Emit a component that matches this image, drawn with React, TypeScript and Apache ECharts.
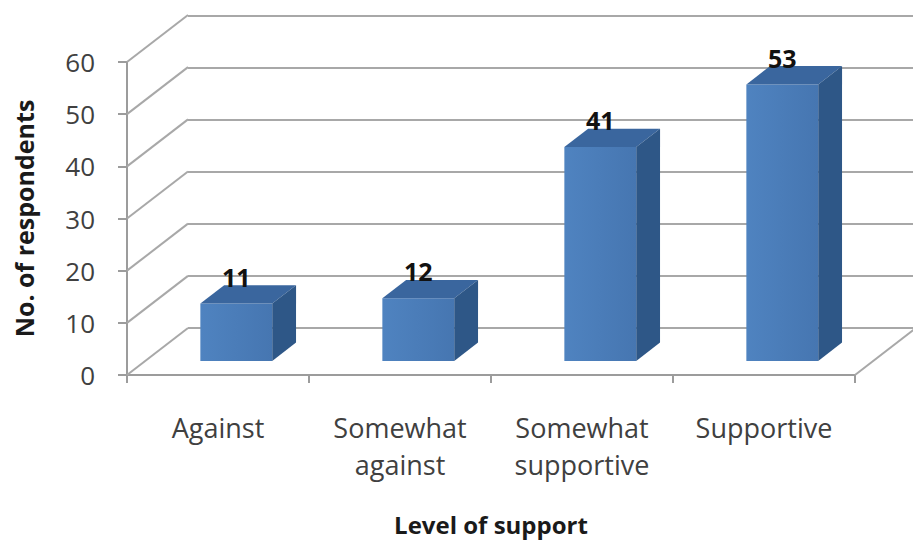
import React, { useEffect, useRef } from "react";
import * as echarts from "echarts";

// Survey results: level of support among respondents
const categories = ["Against", "Somewhat\nagainst", "Somewhat\nsupportive", "Supportive"];
const respondents = [11, 12, 41, 53];
const yTicks = [0, 10, 20, 30, 40, 50, 60];

// Oblique projection of the depth axis (pixels for the full floor depth)
const DEPTH_X = 61;
const DEPTH_Y = -47;
// Bars sit in the middle of the floor depth
const BAR_DEPTH_START = 0.3;
const BAR_DEPTH = 0.39;
const BAR_WIDTH_RATIO = 0.395;

const GRID_COLOR = "#a8a8a8";
const FONT = "'Open Sans', 'Noto Sans', sans-serif";

export default function App() {
  const ref = useRef<HTMLDivElement>(null);

  useEffect(() => {
    document.body.style.margin = "0";
    if (!ref.current) return;
    const chart = echarts.init(ref.current, null, { renderer: "svg" });

    const frontGradient = new echarts.graphic.LinearGradient(0, 0, 1, 0, [
      { offset: 0, color: "#4f83c0" },
      { offset: 1, color: "#4676b1" },
    ]);

    chart.setOption({
      animation: false,
      backgroundColor: "#ffffff",
      grid: [
        { left: 127, top: 62, width: 728, height: 313 },
        { left: 188, top: 16, right: 0, height: 312 },
      ],
      xAxis: [
        {
          type: "category",
          gridIndex: 0,
          data: categories,
          axisLine: { lineStyle: { color: "#9c9c9c", width: 2 } },
          axisTick: { show: true, length: 8, interval: 0, lineStyle: { color: "#9c9c9c", width: 2 } },
          axisLabel: {
            interval: 0,
            margin: 34,
            fontSize: 27,
            lineHeight: 37,
            color: "#404040",
            fontFamily: FONT,
          },
          name: "Level of support",
          nameLocation: "middle",
          nameGap: 137,
          nameTextStyle: { fontSize: 24, fontWeight: "bold", color: "#1a1a1a", fontFamily: FONT },
        },
        { type: "category", gridIndex: 1, show: false, data: categories },
      ],
      yAxis: [
        {
          type: "value",
          gridIndex: 0,
          min: 0,
          max: 60,
          interval: 10,
          axisLine: { show: true, lineStyle: { color: "#9c9c9c", width: 2 } },
          axisTick: { show: true, length: 9, lineStyle: { color: "#9c9c9c", width: 2 } },
          axisLabel: {
            margin: 32,
            fontSize: 26,
            color: "#404040",
            fontFamily: FONT,
            padding: [10, 0, 0, 0],
          },
          splitLine: { show: false },
          name: "No. of respondents",
          nameLocation: "middle",
          nameGap: 91,
          nameRotate: 90,
          nameTextStyle: { fontSize: 25, fontWeight: "bold", color: "#1a1a1a", fontFamily: FONT },
        },
        {
          type: "value",
          gridIndex: 1,
          min: 0,
          max: 60,
          interval: 10,
          axisLine: { show: false },
          axisTick: { show: false },
          axisLabel: { show: false },
          splitLine: { show: true, lineStyle: { color: GRID_COLOR, width: 2 } },
        },
      ],
      series: [
        {
          // side wall: receding lines from each value tick to the back wall
          type: "custom",
          xAxisIndex: 0,
          yAxisIndex: 0,
          clip: false,
          silent: true,
          z: 1,
          data: yTicks.map((v) => [0, v]),
          renderItem: (params: any, api: any) => {
            const x0 = params.coordSys.x;
            const y0 = api.coord([0, api.value(1)])[1];
            return {
              type: "line",
              shape: { x1: x0, y1: y0, x2: x0 + DEPTH_X, y2: y0 + DEPTH_Y },
              style: { stroke: GRID_COLOR, lineWidth: 2 },
            };
          },
        },
        {
          // right edge of the floor
          type: "custom",
          xAxisIndex: 0,
          yAxisIndex: 0,
          clip: false,
          silent: true,
          z: 1,
          data: [[categories.length - 1, 0]],
          renderItem: (params: any, api: any) => {
            const band = api.size([1, 0])[0];
            const p = api.coord([api.value(0), api.value(1)]);
            const x0 = p[0] + band / 2;
            return {
              type: "line",
              shape: { x1: x0, y1: p[1], x2: x0 + DEPTH_X, y2: p[1] + DEPTH_Y },
              style: { stroke: GRID_COLOR, lineWidth: 2 },
            };
          },
        },
        {
          // 3D columns with value labels
          type: "custom",
          name: "Respondents",
          xAxisIndex: 0,
          yAxisIndex: 0,
          clip: false,
          z: 5,
          data: respondents.map((v, i) => [i, v]),
          renderItem: (params: any, api: any) => {
            const i = api.value(0);
            const v = api.value(1);
            const band = api.size([1, 0])[0];
            const top = api.coord([i, v]);
            const base = api.coord([i, 0]);
            const w = band * BAR_WIDTH_RATIO;
            const cx = top[0] + DEPTH_X * BAR_DEPTH_START;
            const x0 = cx - w / 2;
            const x1 = cx + w / 2;
            const yt = top[1] + DEPTH_Y * BAR_DEPTH_START;
            const yb = base[1] + DEPTH_Y * BAR_DEPTH_START;
            const ox = DEPTH_X * BAR_DEPTH;
            const oy = DEPTH_Y * BAR_DEPTH;
            return {
              type: "group",
              children: [
                {
                  type: "rect",
                  shape: { x: x0, y: yt, width: w, height: yb - yt },
                  style: { fill: frontGradient },
                },
                {
                  type: "polygon",
                  shape: { points: [[x0, yt], [x1, yt], [x1 + ox, yt + oy], [x0 + ox, yt + oy]] },
                  style: { fill: "#3a669e" },
                },
                {
                  type: "polygon",
                  shape: { points: [[x1, yt], [x1 + ox, yt + oy], [x1 + ox, yb + oy], [x1, yb]] },
                  style: { fill: "#2e5787" },
                },
                {
                  type: "text",
                  style: {
                    text: String(v),
                    x: cx,
                    y: yt + oy + 4,
                    align: "center",
                    verticalAlign: "bottom",
                    fontSize: 25,
                    fontWeight: "bold",
                    fontFamily: FONT,
                    fill: "#111111",
                  },
                },
              ],
            };
          },
        },
      ],
    });

    return () => chart.dispose();
  }, []);

  return <div ref={ref} style={{ width: 913, height: 541 }} />;
}
